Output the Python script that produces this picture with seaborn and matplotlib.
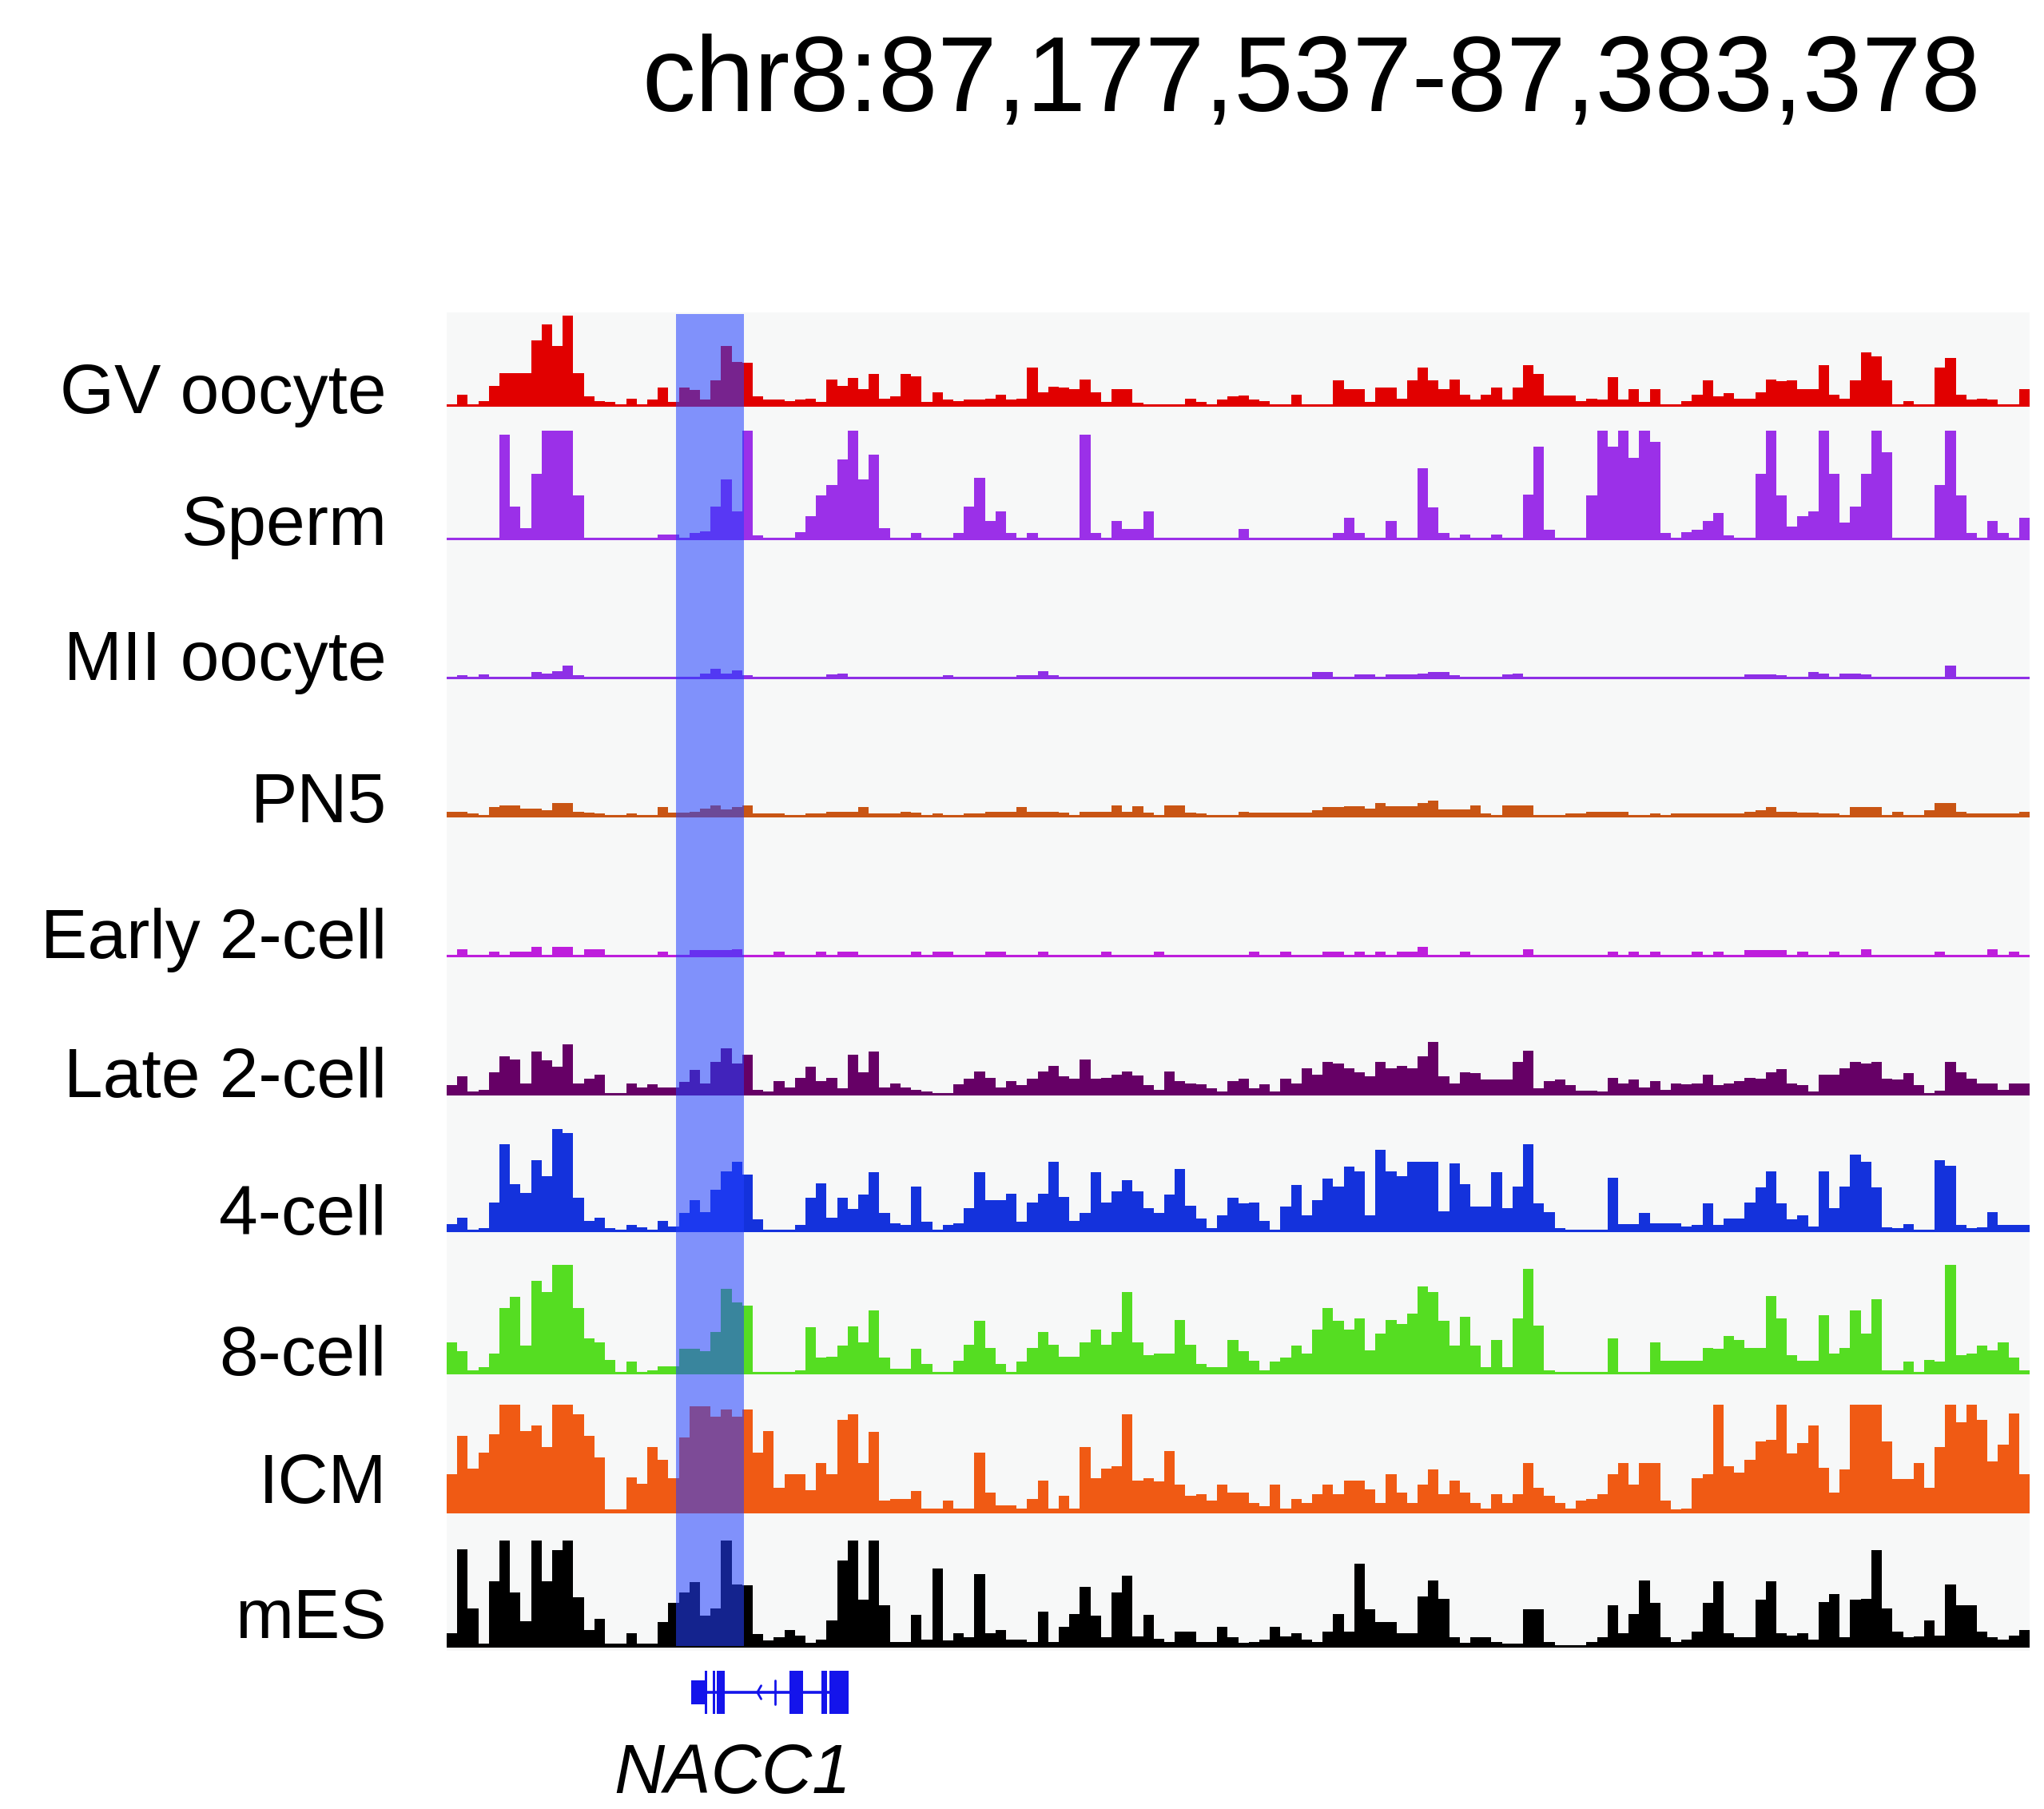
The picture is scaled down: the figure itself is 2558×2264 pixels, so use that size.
import numpy as np
import pandas as pd
import matplotlib
matplotlib.use("Agg")
import matplotlib.pyplot as plt
import seaborn as sns
from matplotlib.patches import Rectangle

# ---------------- data ----------------
REGION_CHROM = "chr8"
REGION_START = 87177537
REGION_END = 87383378
N_BINS = 150

TRACK_NAMES = ["GV oocyte", "Sperm", "MII oocyte", "PN5", "Early 2-cell",
               "Late 2-cell", "4-cell", "8-cell", "ICM", "mES"]
TRACK_COLORS = ["#E10000", "#9B30E8", "#8E2FE6", "#C95514", "#BE1EDC",
                "#660066", "#1432DC", "#55DD22", "#F05A14", "#000000"]

gv_oocyte = [0,10,0,4,18,30,30,30,60,75,
             55,83,30,8,4,3,0,6,0,5,
             16,3,16,14,5,23,55,40,39,8,
             5,5,4,5,6,3,24,18,25,15,
             29,6,8,29,27,3,12,5,4,5,
             5,6,10,5,6,35,12,17,16,15,
             24,12,3,15,15,2,0,0,0,0,
             6,3,0,5,8,9,5,4,0,0,
             10,0,0,0,23,15,15,3,16,16,
             6,23,35,23,15,24,10,5,10,16,
             5,16,37,29,9,9,9,4,6,5,
             26,5,15,3,15,0,0,4,10,23,
             8,11,6,6,12,24,22,23,15,15,
             37,10,6,23,49,45,23,0,4,0,
             0,35,44,10,5,6,5,0,0,15]
sperm = [0,0,0,0,0,96,30,10,60,100,
         100,100,40,0,0,0,0,0,0,0,
         4,4,0,5,7,30,55,25,100,3,
         0,0,0,6,21,40,50,73,100,55,
         78,10,0,0,5,0,0,0,5,30,
         56,16,25,5,0,5,0,0,0,0,
         96,5,0,16,9,9,25,0,0,0,
         0,0,0,0,0,9,0,0,0,0,
         0,0,0,0,5,19,5,0,0,16,
         0,0,65,29,5,0,4,0,0,4,
         0,0,41,85,8,0,0,0,40,100,
         85,100,75,100,90,5,0,6,8,16,
         24,3,0,0,60,100,40,11,21,25,
         100,60,15,30,60,100,80,0,0,0,
         0,50,100,40,5,0,16,5,0,19]
mii_oocyte = [0,2,1,3,0,1,0,1,5,4,
              6,11,2,1,0,0,0,1,1,0,
              0,0,1,1,4,8,4,7,2,0,
              1,1,0,1,1,1,3,4,0,0,
              0,0,1,0,1,1,1,2,1,0,
              1,1,0,0,2,2,6,2,1,0,
              0,1,1,0,1,1,0,1,1,0,
              0,0,1,1,0,0,0,1,1,0,
              0,0,5,5,1,0,3,3,0,3,
              3,3,4,5,5,2,0,1,1,0,
              3,4,1,1,0,0,0,0,1,0,
              0,0,1,1,0,1,1,1,1,1,
              1,1,0,3,3,3,2,0,0,5,
              4,0,4,4,3,0,0,0,0,0,
              0,0,11,1,1,1,1,1,1,1]
pn5 = [4,4,2,0,8,10,10,7,7,5,
       12,12,4,3,2,0,0,2,0,0,
       8,3,3,4,7,10,6,8,10,2,
       2,2,1,0,2,2,4,4,4,8,
       2,2,2,4,3,0,2,0,0,2,
       2,4,4,4,8,4,4,4,3,0,
       4,4,4,10,4,9,3,0,10,10,
       3,2,0,0,0,4,3,3,3,3,
       3,3,5,8,8,9,9,7,12,9,
       9,9,12,14,6,6,6,10,2,1,
       10,10,10,0,0,0,2,2,4,4,
       4,4,0,0,2,0,2,2,2,2,
       2,2,2,4,5,8,4,4,3,3,
       2,2,0,8,8,8,0,4,0,0,
       5,12,12,4,2,2,2,2,2,4]
early_2cell = [0,6,0,0,4,0,4,4,8,0,
               8,8,0,6,6,0,0,0,0,0,
               4,0,0,5,5,5,5,6,0,0,
               0,4,0,0,0,4,0,4,4,0,
               0,0,0,0,4,0,4,4,0,0,
               0,4,4,0,0,0,4,0,0,0,
               0,0,4,0,0,0,0,4,0,0,
               0,0,0,0,0,0,4,0,0,4,
               0,0,0,4,4,0,4,0,4,0,
               4,4,8,0,0,0,4,0,0,0,
               0,0,6,0,0,0,0,0,0,0,
               4,0,4,0,4,0,0,0,4,0,
               4,0,0,5,5,5,5,0,4,0,
               0,4,0,0,6,0,0,0,0,0,
               0,4,0,0,0,0,6,0,4,0]
late_2cell = [8,16,2,4,20,35,32,10,39,31,
              25,46,10,14,18,1,1,10,6,9,
              6,6,11,22,10,30,42,28,36,4,
              2,12,6,15,25,12,15,5,36,20,
              39,6,10,6,4,2,1,1,9,14,
              21,15,6,12,8,14,21,26,16,14,
              32,14,15,18,21,17,8,4,21,12,
              10,9,5,2,12,14,5,9,2,14,
              10,24,18,30,28,24,20,16,30,24,
              26,24,35,48,16,10,20,19,13,13,
              13,30,40,5,12,13,8,3,3,2,
              15,10,13,6,12,4,10,9,10,18,
              8,10,12,15,14,20,23,10,8,2,
              18,18,24,30,28,30,14,13,19,8,
              1,3,30,20,14,10,10,4,10,10]
cell4 = [6,12,0,2,26,80,43,35,65,50,
         94,90,30,9,12,2,0,5,3,1,
         9,4,16,28,17,38,55,64,52,10,
         0,0,0,5,30,44,12,30,20,33,
         54,16,7,5,41,8,0,5,7,21,
         54,28,28,34,8,26,34,64,31,9,
         16,54,26,36,47,36,21,16,33,57,
         23,11,2,14,30,25,26,9,0,22,
         42,14,28,48,41,59,55,14,75,55,
         50,64,64,64,18,62,43,22,22,54,
         21,41,80,25,17,2,0,0,0,0,
         49,6,6,16,7,7,7,4,5,25,
         5,11,11,26,40,55,25,10,14,4,
         55,21,41,70,64,40,3,2,6,0,
         0,65,60,5,2,3,17,5,5,5]
cell8 = [28,20,2,5,18,60,70,25,85,75,
         100,100,60,32,28,12,1,10,1,2,
         6,6,22,22,20,38,78,65,62,1,
         1,1,1,2,42,14,15,25,43,28,
         58,14,4,4,22,8,1,1,11,26,
         48,23,8,1,10,23,38,26,15,15,
         28,40,26,38,75,28,16,18,18,49,
         26,8,5,5,30,20,11,2,10,14,
         25,18,40,60,48,40,50,21,36,49,
         45,55,80,75,48,25,52,25,5,30,
         5,50,96,44,2,1,1,1,1,1,
         32,1,1,1,28,11,11,11,11,23,
         22,34,30,23,23,71,50,16,11,11,
         53,18,23,58,36,68,2,2,10,1,
         12,10,100,16,18,25,21,28,14,2]
icm = [35,70,40,55,72,99,99,75,80,60,
       99,99,90,70,50,2,2,32,26,60,
       48,31,69,98,98,88,95,88,95,55,
       75,22,35,35,20,45,35,85,90,45,
       74,10,12,12,19,3,3,10,3,3,
       55,18,6,6,3,12,29,3,15,3,
       60,31,40,42,90,29,31,28,56,25,
       15,16,10,25,18,18,8,5,25,3,
       12,8,16,25,16,29,29,21,8,35,
       18,8,25,39,16,29,18,8,3,16,
       8,16,45,22,15,8,3,10,12,16,
       35,45,25,45,45,10,2,3,31,35,
       99,42,36,48,65,67,99,54,64,80,
       41,18,39,99,99,99,65,30,30,45,
       22,60,99,83,99,85,47,62,91,35]
mes = [12,90,35,2,60,98,50,23,98,60,
       89,98,45,15,25,2,2,12,2,2,
       22,40,50,59,28,35,98,57,56,11,
       5,8,15,10,3,6,24,79,98,43,
       98,38,4,4,29,6,72,5,12,8,
       67,12,15,6,6,4,32,4,18,30,
       55,28,8,50,65,9,29,7,4,13,
       13,4,4,18,8,3,4,6,18,9,
       12,6,4,13,30,13,76,34,22,22,
       12,12,46,61,44,8,3,8,8,4,
       2,2,34,34,4,1,1,1,4,8,
       38,12,30,61,40,8,4,6,13,40,
       60,12,8,8,43,60,12,10,12,6,
       41,48,8,43,44,89,35,13,8,9,
       24,10,57,38,38,13,8,6,10,15]

TRACK_VALUES = [gv_oocyte, sperm, mii_oocyte, pn5, early_2cell,
                late_2cell, cell4, cell8, icm, mes]

HIGHLIGHT_START = 87207400
HIGHLIGHT_END = 87216230

GENE_NAME = "NACC1"
GENE_START = 87209300
GENE_END = 87229790
EXON_STARTS = [87209300, 87211070, 87212110, 87212630, 87222090, 87226250, 87227290]
EXON_ENDS = [87211070, 87211390, 87212430, 87213670, 87223860, 87226980, 87229790]
EXON_IS_UTR = [True, False, False, False, False, False, False]
INTRON_ARROW_POS = [87217935]
INTRON_TICK_POS = [87220222]

# ---------------- layout (pixels of the 2558x2264 canvas) ----------------
W, H = 2558, 2264
DPI = 100
X0, X1 = 559, 2540
BASELINES = [507, 674, 848, 1021, 1196, 1369, 1540, 1718, 1892, 2060]
LABEL_BASELINES = [517, 682, 851, 1029, 1199, 1373, 1545, 1721, 1881, 2050]
TRACK_H = 135
PAD = 6

def rect(x0, ytop, x1, ybot):
    return [x0 / W, 1 - ybot / H, (x1 - x0) / W, (ybot - ytop) / H]

sns.set_theme(style="white")
plt.rcParams["font.family"] = ["Liberation Sans", "DejaVu Sans"]

fig = plt.figure(figsize=(W / DPI, H / DPI), dpi=DPI)
fig.patch.set_facecolor("white")

# background panel
ax_bg = fig.add_axes(rect(X0, 391, X1, 2066))
ax_bg.set_facecolor("#F7F8F8")
ax_bg.set_xticks([]); ax_bg.set_yticks([])
for s in ax_bg.spines.values():
    s.set_visible(False)

bin_size = (REGION_END - REGION_START) / N_BINS
centers = REGION_START + (np.arange(N_BINS) + 0.5) * bin_size

df = pd.concat([pd.DataFrame({"track": name, "pos": centers,
                              "signal": np.asarray(vals, dtype=float)})
                for name, vals in zip(TRACK_NAMES, TRACK_VALUES)], ignore_index=True)

pad_units = PAD / TRACK_H * 100
for name, color, base, lbase in zip(TRACK_NAMES, TRACK_COLORS, BASELINES, LABEL_BASELINES):
    ax = fig.add_axes(rect(X0, base - TRACK_H, X1, base + PAD))
    ax.patch.set_alpha(0)
    sub = df[df["track"] == name]
    sns.histplot(data=sub, x="pos", weights="signal", bins=N_BINS,
                 binrange=(REGION_START, REGION_END), element="step",
                 fill=True, color=color, alpha=1.0, linewidth=0, ax=ax)
    ax.axhline(0, color=color, lw=2.2)
    ax.set_xlim(REGION_START, REGION_END)
    ax.set_ylim(-pad_units, 100)
    ax.axis("off")
    fig.text(484 / W, 1 - lbase / H, name, ha="right", va="baseline",
             fontsize=63, color="black")

# highlight overlay
ax_hl = fig.add_axes(rect(X0, 393, X1, 2060))
ax_hl.patch.set_alpha(0)
ax_hl.axvspan(HIGHLIGHT_START, HIGHLIGHT_END, color=(0.14, 0.25, 1.0), alpha=0.56, lw=0)
ax_hl.set_xlim(REGION_START, REGION_END)
ax_hl.set_ylim(0, 1)
ax_hl.axis("off")

# gene model
GENE_COLOR = "#1414EB"
ax_g = fig.add_axes(rect(X0, 2080, X1, 2156))
ax_g.patch.set_alpha(0)
ax_g.set_xlim(REGION_START, REGION_END)
ax_g.set_ylim(-1, 1)
ax_g.plot([GENE_START, GENE_END], [0, 0], color=GENE_COLOR, lw=2.6, solid_capstyle="butt")
for s0, s1, utr in zip(EXON_STARTS, EXON_ENDS, EXON_IS_UTR):
    h = 0.40 if utr else 0.70
    ax_g.add_patch(Rectangle((s0, -h), s1 - s0, 2 * h, facecolor=GENE_COLOR,
                             edgecolor="none"))
for p in INTRON_ARROW_POS:
    dx = 500
    ax_g.plot([p + dx, p, p + dx], [0.22, 0, -0.22], color=GENE_COLOR, lw=2.0)
for p in INTRON_TICK_POS:
    ax_g.plot([p, p], [-0.4, 0.4], color=GENE_COLOR, lw=2.0)
ax_g.axis("off")

fig.text(917 / W, 1 - 2244 / H, GENE_NAME, ha="center", va="baseline",
         fontsize=63, style="italic", color="black")

# region title
title = f"{REGION_CHROM}:{REGION_START:,}-{REGION_END:,}"
fig.text(2479 / W, 1 - 139 / H, title, ha="right", va="baseline", fontsize=96,
         color="black")

fig.savefig("out.png", dpi=DPI, facecolor="white")
